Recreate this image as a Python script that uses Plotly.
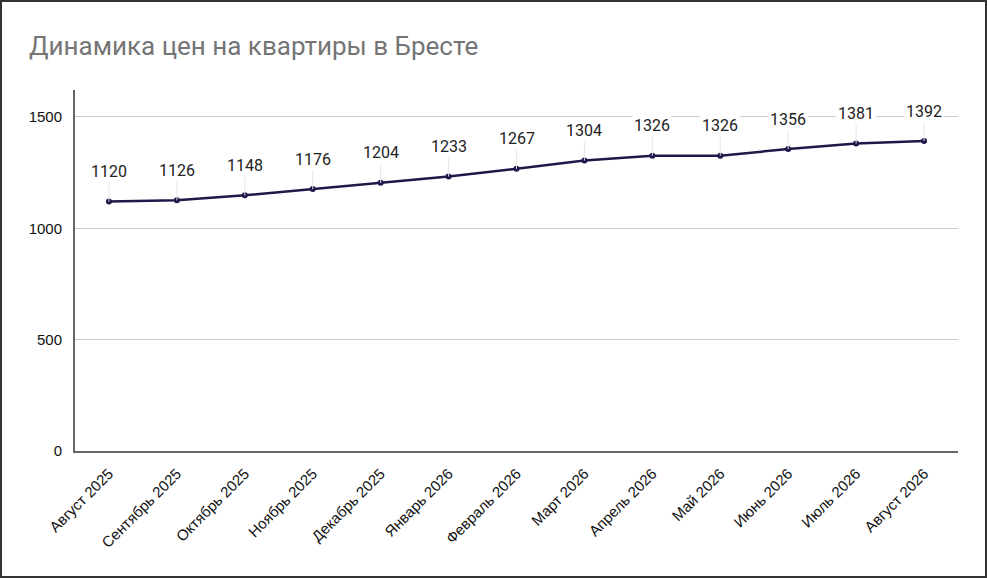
import plotly.graph_objects as go

# данные с графика
months = ["Август 2025", "Сентябрь 2025", "Октябрь 2025", "Ноябрь 2025",
          "Декабрь 2025", "Январь 2026", "Февраль 2026", "Март 2026",
          "Апрель 2026", "Май 2026", "Июнь 2026", "Июль 2026", "Август 2026"]
prices = [1120, 1126, 1148, 1176, 1204, 1233, 1267, 1304, 1326, 1326, 1356, 1381, 1392]
y_ticks = [0, 500, 1000, 1500]

W, H = 987, 578
ml, mr, mt, mb = 75, 29, 90, 127
pw, ph = W - ml - mr, H - mt - mb

fig = go.Figure()
fig.add_trace(go.Scatter(
    x=months, y=prices, mode="lines+markers",
    line=dict(color="#21174a", width=2.5),
    marker=dict(color="#21174a", size=6, line=dict(width=0)),
    hoverinfo="x+y", showlegend=False,
))

# подписи значений с выносной линией
annotations = []
for m, p in zip(months, prices):
    annotations.append(dict(
        x=m, y=p, xref="x", yref="y", text=str(p),
        showarrow=True, arrowhead=0, arrowwidth=1, arrowcolor="#e6e6e6",
        ax=0, ay=-30, bgcolor="white", borderpad=1,
        font=dict(family="Roboto", size=16, color="#222222"),
    ))

fig.update_layout(
    width=W, height=H,
    margin=dict(l=ml, r=mr, t=mt, b=mb),
    paper_bgcolor="white", plot_bgcolor="white",
    title=dict(text="Динамика цен на квартиры в Бресте",
               font=dict(family="Roboto", size=26, color="#757575"),
               x=29 / W, xanchor="left", y=1 - 46 / H, yanchor="middle"),
    annotations=annotations,
    shapes=[dict(type="rect", xref="paper", yref="paper",
                 x0=-(ml - 1) / pw, x1=1 + (mr - 1) / pw,
                 y0=-(mb - 1) / ph, y1=1 + (mt - 1) / ph,
                 line=dict(color="#333333", width=2), layer="above")],
)
fig.update_xaxes(
    type="category", range=[-0.5, len(months) - 0.5],
    tickangle=-45, showgrid=False, showline=True, linecolor="#666666", linewidth=2,
    tickfont=dict(family="Liberation Sans", size=15, color="#111111"),
    ticks="outside", ticklen=6, tickcolor="rgba(0,0,0,0)",
)
fig.update_yaxes(
    range=[0, 1621], tickvals=y_ticks, showgrid=True, gridcolor="#cccccc",
    showline=True, linecolor="#666666", linewidth=2, zeroline=False,
    tickfont=dict(family="Liberation Sans", size=15, color="#111111"),
    ticks="outside", ticklen=8, tickcolor="rgba(0,0,0,0)",
)

fig.write_html("out.html", config={"displayModeBar": False},
               post_script="document.body.style.margin='0';")
